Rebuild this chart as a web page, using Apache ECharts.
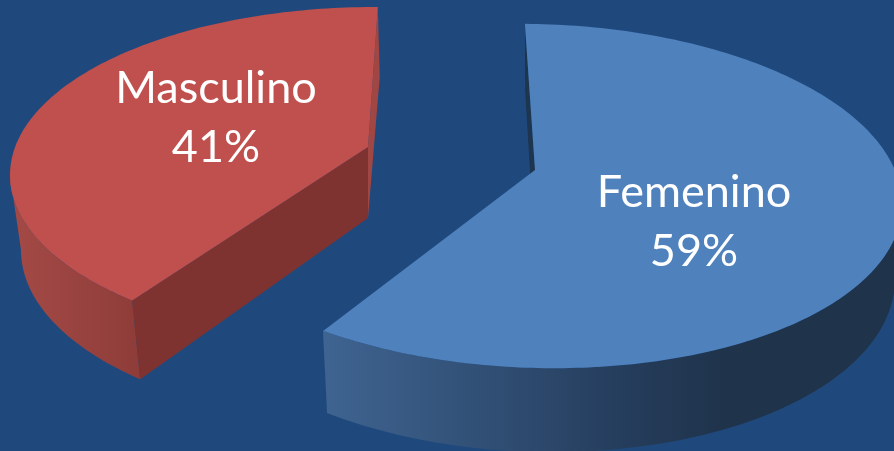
<!DOCTYPE html>
<html>
<head>
<meta charset="utf-8">
<style>
html,body{margin:0;padding:0;background:#1f497d}
#chart{width:894px;height:451px}
</style>
<script src="https://cdn.jsdelivr.net/npm/echarts@6/dist/echarts.min.js"></script>
</head>
<body>
<div id="chart"></div>
<script>
var categories = ['Femenino', 'Masculino']
var values = [59, 41]
var total = values[0] + values[1]

// tilted pie: top rim and bottom rim are two ellipses, slices are pulled apart
var slices = [
  {
    cx: 537, cy: 196, rx: 365, ry: 172, skew: 0.022,
    bcx: 537, bcy: 271, brx: 358, bry: 181,
    start: -1.9, stretch: 1.025,
    wallFrom: 92, wallTo: 215.9,
    apex: [535, 170], apexBottom: [534, 240],
    top: '#4f81bd', inner: '#1e3550', backWall: '#1e3550',
    wall: {type: 'linear', x: 323, y: 0, x2: 894, y2: 0, global: true, colorStops: [
      {offset: 0, color: '#3f6491'}, {offset: 0.5, color: '#263f5f'}, {offset: 0.7, color: '#1f334b'}, {offset: 1, color: '#1f334b'}
    ]},
    label: [694, 222]
  },
  {
    cx: 375, cy: 175, rx: 365, ry: 168, skew: 0,
    bcx: 377, bcy: 250, brx: 356, bry: 173,
    start: 221.7, stretch: 0.94,
    wallFrom: 221.7, wallTo: 270,
    apex: [368, 147], apexBottom: [368, 218],
    top: '#c0504d', inner: '#7f3331', backWall: '#a04643',
    wall: {type: 'linear', x: 10, y: 0, x2: 142, y2: 0, global: true, colorStops: [
      {offset: 0, color: '#a44a46'}, {offset: 1, color: '#8e3c39'}
    ]},
    label: [216, 118]
  }
]

function rim(s, a, bottom) {
  var r = a * Math.PI / 180
  var cx = bottom ? s.bcx : s.cx
  var rx = bottom ? s.brx : s.rx
  var ry = bottom ? s.bry : s.ry
  var cy = bottom ? s.bcy : s.cy
  return [cx + rx * Math.sin(r), cy - ry * Math.cos(r) + s.skew * rx * Math.sin(r)]
}

function arc(s, from, to, bottom) {
  var pts = []
  var n = Math.ceil(Math.abs(to - from))
  for (var i = 0; i <= n; i++) {
    pts.push(rim(s, from + (to - from) * i / n, bottom))
  }
  return pts
}

function poly(points, fill) {
  return {type: 'polygon', shape: {points: points}, style: {fill: fill}}
}

function renderSlice(params, api) {
  var i = params.dataIndex
  var s = slices[i]
  var sweep = api.value(0) / total * 360 * s.stretch
  var a0 = s.start
  var a1 = s.start + sweep
  // the blue slice shows its first edge only as a sliver, the red one shows both
  var backEdge = i == 0 ? a0 : a1
  var children = [
    poly([rim(s, backEdge, false), rim(s, backEdge, true), s.apexBottom, s.apex], s.backWall),
    poly(arc(s, s.wallFrom, s.wallTo, false).concat(arc(s, s.wallTo, s.wallFrom, true)), s.wall)
  ]
  if (i == 1) {
    children.push(poly([s.apex, s.apexBottom, rim(s, a0, true), rim(s, a0, false)], s.inner))
  }
  children.push(poly([s.apex].concat(arc(s, a0, a1, false)), s.top))
  children.push({
    type: 'text',
    x: s.label[0],
    y: s.label[1],
    style: {
      text: categories[i] + '\n' + api.value(0) + '%',
      fill: '#fff',
      font: '45px Lato',
      lineHeight: 59,
      align: 'center',
      verticalAlign: 'middle'
    }
  })
  return {type: 'group', children: children}
}

var chart = echarts.init(document.getElementById('chart'))
chart.setOption({
  backgroundColor: '#1f497d',
  animation: false,
  series: [{
    type: 'custom',
    coordinateSystem: 'none',
    renderItem: renderSlice,
    data: values.map(function (v, i) { return {name: categories[i], value: [v]} })
  }]
})
</script>
</body>
</html>
